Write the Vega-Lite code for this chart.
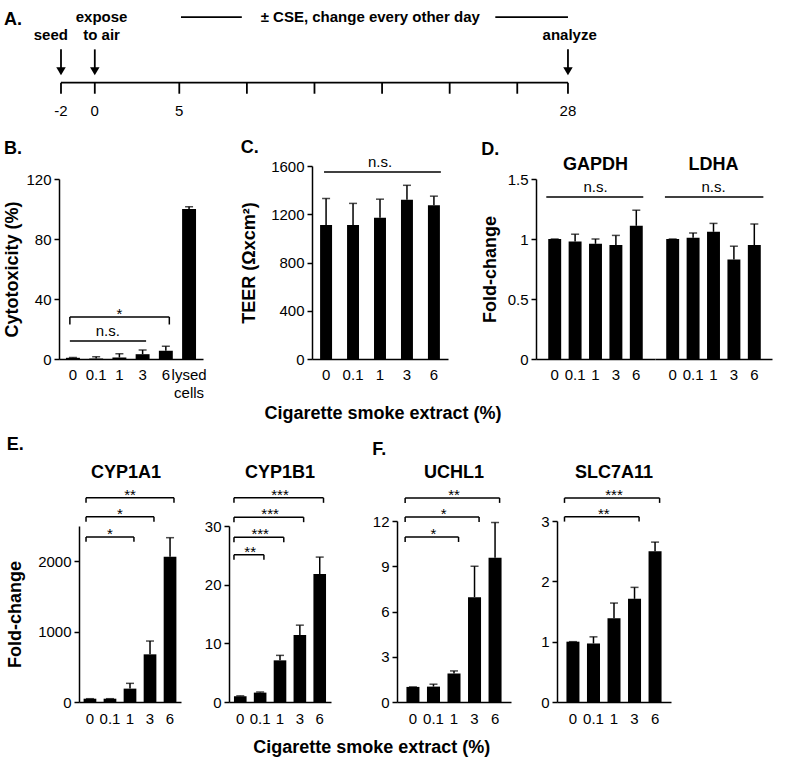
{
"$schema": "https://vega.github.io/schema/vega-lite/v6.json",
"background": "white",
"padding": {"left": 3, "top": 3, "right": 5, "bottom": 0},
"config": {
  "font": "Liberation Sans",
  "view": {"stroke": null},
  "axis": {"grid": false, "labelFont": "Liberation Sans", "labelFontSize": 15, "labelColor": "black", "domainColor": "black", "domainWidth": 1.5, "tickColor": "black", "tickWidth": 1.5, "titleFont": "Liberation Sans", "titleFontSize": 18, "titleFontWeight": "bold", "titleColor": "black"},
  "axisX": {"ticks": false, "labelAngle": 0, "labelPadding": 8},
  "axisY": {"tickSize": 5, "labelPadding": 3, "titlePadding": 10, "labelExpr": "'' + datum.value"},
  "title": {"font": "Liberation Sans", "fontSize": 18, "fontWeight": "bold", "color": "black"},
  "text": {"color": "black", "font": "Liberation Sans"}
},
"spacing": 12,
"columns": 1,
"concat": [
  {
    "width": 560, "height": 124,
    "layer": [
      {
        "data": {"values": [
          {"x": -2, "x2": 28, "y": 0, "y2": 0},
          {"x": -2, "x2": -2, "y": 0, "y2": -1.1},
          {"x": 0, "x2": 0, "y": 0, "y2": -1.1},
          {"x": 5, "x2": 5, "y": 0, "y2": -1.1},
          {"x": 9, "x2": 9, "y": 0, "y2": -1.1},
          {"x": 13, "x2": 13, "y": 0, "y2": -1.1},
          {"x": 17, "x2": 17, "y": 0, "y2": -1.1},
          {"x": 21, "x2": 21, "y": 0, "y2": -1.1},
          {"x": 25, "x2": 25, "y": 0, "y2": -1.1},
          {"x": 28, "x2": 28, "y": 0, "y2": -1.1},
          {"x": -2, "x2": -2, "y": 3.3, "y2": 1.3},
          {"x": 0, "x2": 0, "y": 3.3, "y2": 1.3},
          {"x": 28, "x2": 28, "y": 3.3, "y2": 1.3},
          {"x": 5.1, "x2": 8.7, "y": 6.5, "y2": 6.5},
          {"x": 23.7, "x2": 28, "y": 6.5, "y2": 6.5}
        ]},
        "mark": {"type": "rule", "color": "black", "strokeWidth": 1.8},
        "encoding": {
          "x": {"field": "x", "type": "quantitative", "scale": {"domain": [-2.118, 31.02], "nice": false, "zero": false}, "axis": null},
          "x2": {"field": "x2"},
          "y": {"field": "y", "type": "quantitative", "scale": {"domain": [-4.4, 7.9], "nice": false, "zero": false}, "axis": null},
          "y2": {"field": "y2"}
        }
      },
      {
        "data": {"values": [{"x": -2, "y": 1.13}, {"x": 0, "y": 1.13}, {"x": 28, "y": 1.13}]},
        "mark": {"type": "point", "shape": "triangle-down", "filled": true, "size": 90, "color": "black", "opacity": 1},
        "encoding": {
          "x": {"field": "x", "type": "quantitative", "axis": null},
          "y": {"field": "y", "type": "quantitative", "axis": null}
        }
      },
      {
        "data": {"values": [
          {"x": -2.6, "y": 4.7, "t": "seed"},
          {"x": 0.4, "y": 6.5, "t": "expose"},
          {"x": 0.4, "y": 4.7, "t": "to air"},
          {"x": 16.3, "y": 6.5, "t": "± CSE, change every other day"},
          {"x": 28.1, "y": 4.7, "t": "analyze"}
        ]},
        "mark": {"type": "text", "fontSize": 15, "fontWeight": "bold", "baseline": "middle", "align": "center"},
        "encoding": {
          "x": {"field": "x", "type": "quantitative", "axis": null},
          "y": {"field": "y", "type": "quantitative", "axis": null},
          "text": {"field": "t"}
        }
      },
      {
        "data": {"values": [
          {"x": -2, "y": -2.8, "t": "-2"},
          {"x": 0, "y": -2.8, "t": "0"},
          {"x": 5, "y": -2.8, "t": "5"},
          {"x": 28, "y": -2.8, "t": "28"}
        ]},
        "mark": {"type": "text", "fontSize": 15, "baseline": "middle", "align": "center"},
        "encoding": {
          "x": {"field": "x", "type": "quantitative", "axis": null},
          "y": {"field": "y", "type": "quantitative", "axis": null},
          "text": {"field": "t"}
        }
      },
      {
        "data": {"values": [{"x": -5.37, "y": 6.2, "t": "A."}]},
        "mark": {"type": "text", "fontSize": 18, "fontWeight": "bold", "baseline": "middle", "align": "left"},
        "encoding": {
          "x": {"field": "x", "type": "quantitative", "axis": null},
          "y": {"field": "y", "type": "quantitative", "axis": null},
          "text": {"field": "t"}
        }
      }
    ]
  },
  {
    "spacing": 33,
    "title": {"text": "Cigarette smoke extract (%)", "orient": "bottom", "anchor": "middle", "offset": 5, "dx": -5},
    "hconcat": [
      {
        "title": {"text": "B.", "anchor": "start", "frame": "bounds", "offset": 8},
        "width": 144, "height": 193,
        "layer": [
          {
            "data": {"values": [
              {"cse": "0", "value": 0.8, "err": 1.0},
              {"cse": "0.1", "value": 0.3, "err": 1.5},
              {"cse": "1", "value": 1.0, "err": 3.5},
              {"cse": "3", "value": 3.2, "err": 6.0},
              {"cse": "6", "value": 5.5, "err": 8.5},
              {"cse": "lysed cells", "value": 100, "err": 101.5}
            ]},
            "layer": [
              {"mark": {"type": "bar", "color": "black"},
               "encoding": {
                 "x": {"field": "cse", "type": "nominal", "scale": {"domain": ["0", "0.1", "1", "3", "6", "lysed cells"], "paddingInner": 0.4, "paddingOuter": 0.3}, "axis": {"title": null, "labelExpr": "datum.label == 'lysed cells' ? ['lysed', 'cells'] : datum.label", "labelLineHeight": 18}},
                 "y": {"field": "value", "type": "quantitative", "scale": {"domain": [0, 120], "nice": false, "range": [193, 13]}, "axis": {"values": [0, 20, 40, 60, 80, 100, 120], "title": "Cytotoxicity (%)", "titlePadding": 4}}
               }},
              {"mark": {"type": "rule", "color": "black", "strokeWidth": 1.5},
               "encoding": {"x": {"field": "cse", "type": "nominal"}, "y": {"field": "value", "type": "quantitative"}, "y2": {"field": "err"}}},
              {"mark": {"type": "tick", "color": "black", "size": 8, "thickness": 1.5},
               "encoding": {"x": {"field": "cse", "type": "nominal"}, "y": {"field": "err", "type": "quantitative"}}}
            ]
          },
          {
            "data": {"values": [
              {"x1": "0", "x2": "6", "y": 28, "low": 23, "tick": true, "label": "*", "xt": "1", "half": false},
              {"x1": "0", "x2": "3", "y": 12, "low": 12, "tick": false, "label": "n.s.", "xt": "0.1", "half": true}
            ]},
            "layer": [
              {"mark": {"type": "rule", "color": "black", "strokeWidth": 1.5},
               "encoding": {"x": {"field": "x1", "type": "nominal", "bandPosition": 0.28}, "x2": {"field": "x2", "bandPosition": 0.75}, "y": {"field": "y", "type": "quantitative"}}},
              {"transform": [{"filter": "datum.tick"}],
               "mark": {"type": "rule", "color": "black", "strokeWidth": 1.5},
               "encoding": {"x": {"field": "x1", "type": "nominal", "bandPosition": 0.28}, "y": {"field": "y", "type": "quantitative"}, "y2": {"field": "low"}}},
              {"transform": [{"filter": "datum.tick"}],
               "mark": {"type": "rule", "color": "black", "strokeWidth": 1.5},
               "encoding": {"x": {"field": "x2", "type": "nominal", "bandPosition": 0.75}, "y": {"field": "y", "type": "quantitative"}, "y2": {"field": "low"}}},
              {"transform": [{"filter": "datum.label != 'n.s.'"}],
               "mark": {"type": "text", "fontSize": 15, "baseline": "alphabetic", "dy": 2},
               "encoding": {"x": {"field": "xt", "type": "nominal"}, "y": {"field": "y", "type": "quantitative"}, "text": {"field": "label"}}},
              {"transform": [{"filter": "datum.label == 'n.s.'"}],
               "mark": {"type": "text", "fontSize": 15, "baseline": "alphabetic", "dy": -5},
               "encoding": {"x": {"field": "xt", "type": "nominal", "bandPosition": 1.333}, "y": {"field": "y", "type": "quantitative"}, "text": {"field": "label"}}}
            ]
          }
        ]
      },
      {
        "title": {"text": "C.", "anchor": "start", "frame": "bounds", "offset": -2},
        "width": 136, "height": 193,
        "layer": [
          {
            "data": {"values": [
              {"cse": "0", "value": 1110, "err": 1330},
              {"cse": "0.1", "value": 1110, "err": 1290},
              {"cse": "1", "value": 1170, "err": 1325},
              {"cse": "3", "value": 1320, "err": 1440},
              {"cse": "6", "value": 1275, "err": 1350}
            ]},
            "layer": [
              {"mark": {"type": "bar", "color": "black"},
               "encoding": {
                 "x": {"field": "cse", "type": "nominal", "scale": {"domain": ["0", "0.1", "1", "3", "6"], "paddingInner": 0.556, "paddingOuter": 0.3}, "axis": {"title": null}},
                 "y": {"field": "value", "type": "quantitative", "scale": {"domain": [0, 1600], "nice": false}, "axis": {"values": [0, 400, 800, 1200, 1600], "title": "TEER (Ωxcm²)", "titlePadding": 12}}
               }},
              {"mark": {"type": "rule", "color": "black", "strokeWidth": 1.5},
               "encoding": {"x": {"field": "cse", "type": "nominal"}, "y": {"field": "value", "type": "quantitative"}, "y2": {"field": "err"}}},
              {"mark": {"type": "tick", "color": "black", "size": 8, "thickness": 1.5},
               "encoding": {"x": {"field": "cse", "type": "nominal"}, "y": {"field": "err", "type": "quantitative"}}}
            ]
          },
          {
            "data": {"values": [
              {"x1": "0", "x2": "6", "y": 1550, "label": "n.s.", "xt": "1"}
            ]},
            "layer": [
              {"mark": {"type": "rule", "color": "black", "strokeWidth": 1.5},
               "encoding": {"x": {"field": "x1", "type": "nominal", "bandPosition": 0.33}, "x2": {"field": "x2", "bandPosition": 1.08}, "y": {"field": "y", "type": "quantitative"}}},
              {"mark": {"type": "text", "fontSize": 15, "baseline": "alphabetic", "dy": -5},
               "encoding": {"x": {"field": "xt", "type": "nominal"}, "y": {"field": "y", "type": "quantitative"}, "text": {"field": "label"}}}
            ]
          }
        ]
      },
      {
        "title": {"text": "D.", "anchor": "start", "frame": "bounds", "offset": -3},
        "spacing": 0,
        "hconcat": [
          {
            "title": {"text": "GAPDH", "frame": "group", "anchor": "middle", "offset": -8},
            "width": 119, "height": 193,
            "layer": [
              {
                "data": {"values": [
                  {"cse": "0", "value": 1.0, "err": 1.0},
                  {"cse": "0.1", "value": 0.98, "err": 1.04},
                  {"cse": "1", "value": 0.96, "err": 1.0},
                  {"cse": "3", "value": 0.95, "err": 1.03},
                  {"cse": "6", "value": 1.11, "err": 1.24}
                ]},
                "layer": [
                  {"mark": {"type": "bar", "color": "black"},
                   "encoding": {
                     "x": {"field": "cse", "type": "nominal", "scale": {"domain": ["0", "0.1", "1", "3", "6"], "paddingInner": 0.366, "paddingOuter": 0.6}, "axis": {"title": null}},
                     "y": {"field": "value", "type": "quantitative", "scale": {"domain": [0, 1.5], "nice": false, "range": [193, 13]}, "axis": {"values": [0, 0.5, 1, 1.5], "title": "Fold-change", "titlePadding": 8}}
                   }},
                  {"mark": {"type": "rule", "color": "black", "strokeWidth": 1.5},
                   "encoding": {"x": {"field": "cse", "type": "nominal"}, "y": {"field": "value", "type": "quantitative"}, "y2": {"field": "err"}}},
                  {"mark": {"type": "tick", "color": "black", "size": 8, "thickness": 1.5},
                   "encoding": {"x": {"field": "cse", "type": "nominal"}, "y": {"field": "err", "type": "quantitative"}}}
                ]
              },
              {
                "data": {"values": [{"x1": "0", "x2": "6", "y": 1.35, "label": "n.s.", "xt": "1"}]},
                "layer": [
                  {"mark": {"type": "rule", "color": "black", "strokeWidth": 1.5},
                   "encoding": {"x": {"field": "x1", "type": "nominal", "bandPosition": -0.15}, "x2": {"field": "x2", "bandPosition": 1.04}, "y": {"field": "y", "type": "quantitative"}}},
                  {"mark": {"type": "text", "fontSize": 15, "baseline": "alphabetic", "dy": -5},
                   "encoding": {"x": {"field": "xt", "type": "nominal"}, "y": {"field": "y", "type": "quantitative"}, "text": {"field": "label"}}}
                ]
              }
            ]
          },
          {
            "title": {"text": "LDHA", "frame": "group", "anchor": "middle", "offset": -8},
            "width": 117, "height": 193,
            "layer": [
              {
                "data": {"values": [
                  {"cse": "0", "value": 1.0, "err": 1.0},
                  {"cse": "0.1", "value": 1.01, "err": 1.05},
                  {"cse": "1", "value": 1.06, "err": 1.13},
                  {"cse": "3", "value": 0.83, "err": 0.94},
                  {"cse": "6", "value": 0.95, "err": 1.125}
                ]},
                "layer": [
                  {"mark": {"type": "bar", "color": "black"},
                   "encoding": {
                     "x": {"field": "cse", "type": "nominal", "scale": {"domain": ["0", "0.1", "1", "3", "6"], "paddingInner": 0.366, "paddingOuter": 0.55}, "axis": {"title": null}},
                     "y": {"field": "value", "type": "quantitative", "scale": {"domain": [0, 1.5], "nice": false, "range": [193, 13]}, "axis": null}
                   }},
                  {"mark": {"type": "rule", "color": "black", "strokeWidth": 1.5},
                   "encoding": {"x": {"field": "cse", "type": "nominal"}, "y": {"field": "value", "type": "quantitative", "axis": null}, "y2": {"field": "err"}}},
                  {"mark": {"type": "tick", "color": "black", "size": 8, "thickness": 1.5},
                   "encoding": {"x": {"field": "cse", "type": "nominal"}, "y": {"field": "err", "type": "quantitative", "axis": null}}}
                ]
              },
              {
                "data": {"values": [{"x1": "0", "x2": "6", "y": 1.35, "label": "n.s.", "xt": "1"}]},
                "layer": [
                  {"mark": {"type": "rule", "color": "black", "strokeWidth": 1.5},
                   "encoding": {"x": {"field": "x1", "type": "nominal", "bandPosition": -0.1}, "x2": {"field": "x2", "bandPosition": 1.2}, "y": {"field": "y", "type": "quantitative", "axis": null}}},
                  {"mark": {"type": "text", "fontSize": 15, "baseline": "alphabetic", "dy": -5},
                   "encoding": {"x": {"field": "xt", "type": "nominal"}, "y": {"field": "y", "type": "quantitative", "axis": null}, "text": {"field": "label"}}}
                ]
              }
            ]
          }
        ]
      }
    ]
  },
  {
    "spacing": 41,
    "title": {"text": "Cigarette smoke extract (%)", "orient": "bottom", "anchor": "middle", "offset": 13, "dx": 33},
    "hconcat": [
      {
        "title": {"text": "E.", "anchor": "start", "frame": "bounds", "offset": 10},
        "spacing": 23,
        "hconcat": [
          {
            "title": {"text": "CYP1A1", "frame": "group", "anchor": "middle", "offset": 6, "dx": 6},
            "width": 122, "height": 181,
            "layer": [
              {
                "data": {"values": [
                  {"cse": "0", "value": 47, "err": 47},
                  {"cse": "0.1", "value": 47, "err": 47},
                  {"cse": "1", "value": 190, "err": 265},
                  {"cse": "3", "value": 677, "err": 866},
                  {"cse": "6", "value": 2064, "err": 2334}
                ]},
                "layer": [
                  {"mark": {"type": "bar", "color": "black"},
                   "encoding": {
                     "x": {"field": "cse", "type": "nominal", "scale": {"domain": ["0", "0.1", "1", "3", "6"], "paddingInner": 0.365, "paddingOuter": 0.23, "range": [20, 122]}, "axis": {"title": null, "labelPadding": 9}},
                     "y": {"field": "value", "type": "quantitative", "scale": {"domain": [0, 2500], "nice": false, "range": [181, 5]}, "axis": {"values": [0, 500, 1000, 1500, 2000, 2500], "title": "Fold-change", "titlePadding": 13, "offset": -20}}
                   }},
                  {"mark": {"type": "rule", "color": "black", "strokeWidth": 1.5},
                   "encoding": {"x": {"field": "cse", "type": "nominal"}, "y": {"field": "value", "type": "quantitative"}, "y2": {"field": "err"}}},
                  {"mark": {"type": "tick", "color": "black", "size": 8, "thickness": 1.5},
                   "encoding": {"x": {"field": "cse", "type": "nominal"}, "y": {"field": "err", "type": "quantitative"}}}
                ]
              },
              {
                "data": {"values": [
                  {"x1": "0", "x2": "6", "y": 2900, "low": 2830, "label": "**", "xt": "1", "half": false},
                  {"x1": "0", "x2": "3", "y": 2630, "low": 2560, "label": "*", "xt": "0.1", "half": true},
                  {"x1": "0", "x2": "1", "y": 2345, "low": 2275, "label": "*", "xt": "0.1", "half": false}
                ]},
                "layer": [
                  {"mark": {"type": "rule", "color": "black", "strokeWidth": 1.5},
                   "encoding": {"x": {"field": "x1", "type": "nominal", "bandPosition": 0.19}, "x2": {"field": "x2", "bandPosition": 0.81}, "y": {"field": "y", "type": "quantitative"}}},
                  {"mark": {"type": "rule", "color": "black", "strokeWidth": 1.5},
                   "encoding": {"x": {"field": "x1", "type": "nominal", "bandPosition": 0.19}, "y": {"field": "y", "type": "quantitative"}, "y2": {"field": "low"}}},
                  {"mark": {"type": "rule", "color": "black", "strokeWidth": 1.5},
                   "encoding": {"x": {"field": "x2", "type": "nominal", "bandPosition": 0.81}, "y": {"field": "y", "type": "quantitative"}, "y2": {"field": "low"}}},
                  {"transform": [{"filter": "!datum.half"}],
                   "mark": {"type": "text", "fontSize": 15, "baseline": "alphabetic", "dy": 2},
                   "encoding": {"x": {"field": "xt", "type": "nominal"}, "y": {"field": "y", "type": "quantitative"}, "text": {"field": "label"}}},
                  {"transform": [{"filter": "datum.half"}],
                   "mark": {"type": "text", "fontSize": 15, "baseline": "alphabetic", "dy": 2},
                   "encoding": {"x": {"field": "xt", "type": "nominal", "bandPosition": 1.287}, "y": {"field": "y", "type": "quantitative"}, "text": {"field": "label"}}}
                ]
              }
            ]
          },
          {
            "title": {"text": "CYP1B1", "frame": "group", "anchor": "middle", "offset": 6},
            "width": 102, "height": 181,
            "layer": [
              {
                "data": {"values": [
                  {"cse": "0", "value": 1.0, "err": 1.05},
                  {"cse": "0.1", "value": 1.6, "err": 1.7},
                  {"cse": "1", "value": 7.1, "err": 7.95},
                  {"cse": "3", "value": 11.4, "err": 13.1},
                  {"cse": "6", "value": 21.8, "err": 24.7}
                ]},
                "layer": [
                  {"mark": {"type": "bar", "color": "black"},
                   "encoding": {
                     "x": {"field": "cse", "type": "nominal", "scale": {"domain": ["0", "0.1", "1", "3", "6"], "paddingInner": 0.365, "paddingOuter": 0.25}, "axis": {"title": null, "labelPadding": 9}},
                     "y": {"field": "value", "type": "quantitative", "scale": {"domain": [0, 30], "nice": false, "range": [181, 5]}, "axis": {"values": [0, 10, 20, 30], "title": null}}
                   }},
                  {"mark": {"type": "rule", "color": "black", "strokeWidth": 1.5},
                   "encoding": {"x": {"field": "cse", "type": "nominal"}, "y": {"field": "value", "type": "quantitative"}, "y2": {"field": "err"}}},
                  {"mark": {"type": "tick", "color": "black", "size": 8, "thickness": 1.5},
                   "encoding": {"x": {"field": "cse", "type": "nominal"}, "y": {"field": "err", "type": "quantitative"}}}
                ]
              },
              {
                "data": {"values": [
                  {"x1": "0", "x2": "6", "y": 34.8, "low": 33.95, "label": "***", "xt": "1", "half": false},
                  {"x1": "0", "x2": "3", "y": 31.5, "low": 30.65, "label": "***", "xt": "0.1", "half": true},
                  {"x1": "0", "x2": "1", "y": 28.1, "low": 27.25, "label": "***", "xt": "0.1", "half": false},
                  {"x1": "0", "x2": "0.1", "y": 25.1, "low": 24.25, "label": "**", "xt": "0", "half": true}
                ]},
                "layer": [
                  {"mark": {"type": "rule", "color": "black", "strokeWidth": 1.5},
                   "encoding": {"x": {"field": "x1", "type": "nominal", "bandPosition": 0.0}, "x2": {"field": "x2", "bandPosition": 0.8}, "y": {"field": "y", "type": "quantitative"}}},
                  {"mark": {"type": "rule", "color": "black", "strokeWidth": 1.5},
                   "encoding": {"x": {"field": "x1", "type": "nominal", "bandPosition": 0.0}, "y": {"field": "y", "type": "quantitative"}, "y2": {"field": "low"}}},
                  {"mark": {"type": "rule", "color": "black", "strokeWidth": 1.5},
                   "encoding": {"x": {"field": "x2", "type": "nominal", "bandPosition": 0.8}, "y": {"field": "y", "type": "quantitative"}, "y2": {"field": "low"}}},
                  {"transform": [{"filter": "!datum.half"}],
                   "mark": {"type": "text", "fontSize": 15, "baseline": "alphabetic", "dy": 2},
                   "encoding": {"x": {"field": "xt", "type": "nominal"}, "y": {"field": "y", "type": "quantitative"}, "text": {"field": "label"}}},
                  {"transform": [{"filter": "datum.half"}],
                   "mark": {"type": "text", "fontSize": 15, "baseline": "alphabetic", "dy": 2},
                   "encoding": {"x": {"field": "xt", "type": "nominal", "bandPosition": 1.287}, "y": {"field": "y", "type": "quantitative"}, "text": {"field": "label"}}}
                ]
              }
            ]
          }
        ]
      },
      {
        "title": {"text": "F.", "anchor": "start", "frame": "bounds", "offset": 5},
        "spacing": 29,
        "hconcat": [
          {
            "title": {"text": "UCHL1", "frame": "group", "anchor": "middle", "offset": 6},
            "width": 114, "height": 181,
            "layer": [
              {
                "data": {"values": [
                  {"cse": "0", "value": 1.0, "err": 1.0},
                  {"cse": "0.1", "value": 1.02, "err": 1.18},
                  {"cse": "1", "value": 1.89, "err": 2.06},
                  {"cse": "3", "value": 6.95, "err": 9.0},
                  {"cse": "6", "value": 9.56, "err": 11.9}
                ]},
                "layer": [
                  {"mark": {"type": "bar", "color": "black"},
                   "encoding": {
                     "x": {"field": "cse", "type": "nominal", "scale": {"domain": ["0", "0.1", "1", "3", "6"], "paddingInner": 0.366, "paddingOuter": 0.46}, "axis": {"title": null, "labelPadding": 9}},
                     "y": {"field": "value", "type": "quantitative", "scale": {"domain": [0, 12], "nice": false}, "axis": {"values": [0, 3, 6, 9, 12], "title": null}}
                   }},
                  {"mark": {"type": "rule", "color": "black", "strokeWidth": 1.5},
                   "encoding": {"x": {"field": "cse", "type": "nominal"}, "y": {"field": "value", "type": "quantitative"}, "y2": {"field": "err"}}},
                  {"mark": {"type": "tick", "color": "black", "size": 8, "thickness": 1.5},
                   "encoding": {"x": {"field": "cse", "type": "nominal"}, "y": {"field": "err", "type": "quantitative"}}}
                ]
              },
              {
                "data": {"values": [
                  {"x1": "0", "x2": "6", "y": 13.53, "low": 13.2, "label": "**", "xt": "1", "half": false},
                  {"x1": "0", "x2": "3", "y": 12.27, "low": 11.94, "label": "*", "xt": "0.1", "half": true},
                  {"x1": "0", "x2": "1", "y": 10.94, "low": 10.61, "label": "*", "xt": "0.1", "half": false}
                ]},
                "layer": [
                  {"mark": {"type": "rule", "color": "black", "strokeWidth": 1.5},
                   "encoding": {"x": {"field": "x1", "type": "nominal", "bandPosition": -0.1}, "x2": {"field": "x2", "bandPosition": 0.85}, "y": {"field": "y", "type": "quantitative"}}},
                  {"mark": {"type": "rule", "color": "black", "strokeWidth": 1.5},
                   "encoding": {"x": {"field": "x1", "type": "nominal", "bandPosition": -0.1}, "y": {"field": "y", "type": "quantitative"}, "y2": {"field": "low"}}},
                  {"mark": {"type": "rule", "color": "black", "strokeWidth": 1.5},
                   "encoding": {"x": {"field": "x2", "type": "nominal", "bandPosition": 0.85}, "y": {"field": "y", "type": "quantitative"}, "y2": {"field": "low"}}},
                  {"transform": [{"filter": "!datum.half"}],
                   "mark": {"type": "text", "fontSize": 15, "baseline": "alphabetic", "dy": 2},
                   "encoding": {"x": {"field": "xt", "type": "nominal"}, "y": {"field": "y", "type": "quantitative"}, "text": {"field": "label"}}},
                  {"transform": [{"filter": "datum.half"}],
                   "mark": {"type": "text", "fontSize": 15, "baseline": "alphabetic", "dy": 2},
                   "encoding": {"x": {"field": "xt", "type": "nominal", "bandPosition": 1.289}, "y": {"field": "y", "type": "quantitative"}, "text": {"field": "label"}}}
                ]
              }
            ]
          },
          {
            "title": {"text": "SLC7A11", "frame": "group", "anchor": "middle", "offset": 6},
            "width": 114, "height": 181,
            "layer": [
              {
                "data": {"values": [
                  {"cse": "0", "value": 1.0, "err": 1.0},
                  {"cse": "0.1", "value": 0.97, "err": 1.08},
                  {"cse": "1", "value": 1.39, "err": 1.64},
                  {"cse": "3", "value": 1.71, "err": 1.9},
                  {"cse": "6", "value": 2.5, "err": 2.65}
                ]},
                "layer": [
                  {"mark": {"type": "bar", "color": "black"},
                   "encoding": {
                     "x": {"field": "cse", "type": "nominal", "scale": {"domain": ["0", "0.1", "1", "3", "6"], "paddingInner": 0.366, "paddingOuter": 0.46}, "axis": {"title": null, "labelPadding": 9}},
                     "y": {"field": "value", "type": "quantitative", "scale": {"domain": [0, 3], "nice": false}, "axis": {"values": [0, 1, 2, 3], "title": null}}
                   }},
                  {"mark": {"type": "rule", "color": "black", "strokeWidth": 1.5},
                   "encoding": {"x": {"field": "cse", "type": "nominal"}, "y": {"field": "value", "type": "quantitative"}, "y2": {"field": "err"}}},
                  {"mark": {"type": "tick", "color": "black", "size": 8, "thickness": 1.5},
                   "encoding": {"x": {"field": "cse", "type": "nominal"}, "y": {"field": "err", "type": "quantitative"}}}
                ]
              },
              {
                "data": {"values": [
                  {"x1": "0", "x2": "6", "y": 3.38, "low": 3.3, "label": "***", "xt": "1", "half": false},
                  {"x1": "0", "x2": "3", "y": 3.07, "low": 2.99, "label": "**", "xt": "0.1", "half": true}
                ]},
                "layer": [
                  {"mark": {"type": "rule", "color": "black", "strokeWidth": 1.5},
                   "encoding": {"x": {"field": "x1", "type": "nominal", "bandPosition": -0.15}, "x2": {"field": "x2", "bandPosition": 0.85}, "y": {"field": "y", "type": "quantitative"}}},
                  {"mark": {"type": "rule", "color": "black", "strokeWidth": 1.5},
                   "encoding": {"x": {"field": "x1", "type": "nominal", "bandPosition": -0.15}, "y": {"field": "y", "type": "quantitative"}, "y2": {"field": "low"}}},
                  {"mark": {"type": "rule", "color": "black", "strokeWidth": 1.5},
                   "encoding": {"x": {"field": "x2", "type": "nominal", "bandPosition": 0.85}, "y": {"field": "y", "type": "quantitative"}, "y2": {"field": "low"}}},
                  {"transform": [{"filter": "!datum.half"}],
                   "mark": {"type": "text", "fontSize": 15, "baseline": "alphabetic", "dy": 2},
                   "encoding": {"x": {"field": "xt", "type": "nominal"}, "y": {"field": "y", "type": "quantitative"}, "text": {"field": "label"}}},
                  {"transform": [{"filter": "datum.half"}],
                   "mark": {"type": "text", "fontSize": 15, "baseline": "alphabetic", "dy": 2},
                   "encoding": {"x": {"field": "xt", "type": "nominal", "bandPosition": 1.289}, "y": {"field": "y", "type": "quantitative"}, "text": {"field": "label"}}}
                ]
              }
            ]
          }
        ]
      }
    ]
  }
]
}
